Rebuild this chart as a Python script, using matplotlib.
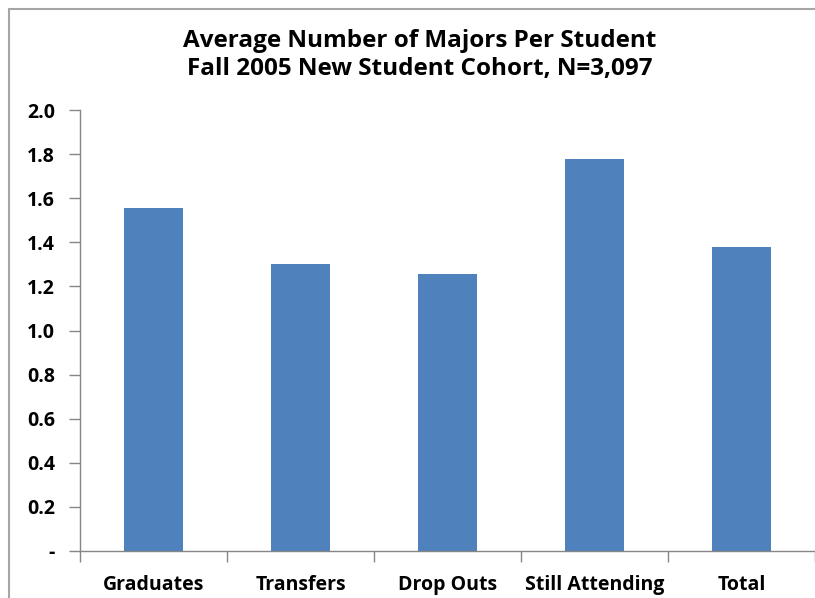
import matplotlib
matplotlib.use("Agg")
import matplotlib.pyplot as plt
from matplotlib.patches import Rectangle
from matplotlib.ticker import FixedLocator, NullFormatter

# Data
categories = ["Graduates", "Transfers", "Drop Outs", "Still Attending", "Total"]
avg_majors = [1.556, 1.30, 1.256, 1.78, 1.38]
y_ticks = [0.0, 0.2, 0.4, 0.6, 0.8, 1.0, 1.2, 1.4, 1.6, 1.8, 2.0]
y_tick_labels = ["-", "0.2", "0.4", "0.6", "0.8", "1.0", "1.2", "1.4", "1.6", "1.8", "2.0"]

plt.rcParams["font.family"] = ["Open Sans", "DejaVu Sans"]

fig = plt.figure(figsize=(8.15, 5.98), dpi=100)
ax = fig.add_axes([80 / 815, 1 - 551 / 598, 735 / 815, 441 / 598])

# outer chart frame (right and bottom edges fall outside the image)
fig.patches.append(Rectangle((9 / 815, -0.05), 1.0, 1 - 8.5 / 598 + 0.05,
                             transform=fig.transFigure, fill=False,
                             edgecolor="#a6a6a6", linewidth=1.5))

x = list(range(len(categories)))
ax.bar(x, avg_majors, width=0.4, color="#4f81bd")

ax.set_xlim(-0.5, len(categories) - 0.5)
ax.set_ylim(0, 2.0)
ax.set_yticks(y_ticks)
ax.set_yticklabels(y_tick_labels, fontsize=14, fontweight="bold")
ax.set_xticks(x)
ax.set_xticklabels(categories, fontsize=14, fontweight="bold")
ax.tick_params(axis="x", which="major", length=0, pad=17)
ax.xaxis.set_minor_locator(FixedLocator([i - 0.5 for i in range(len(categories) + 1)]))
ax.xaxis.set_minor_formatter(NullFormatter())
ax.tick_params(axis="x", which="minor", length=8, color="#868686", width=1)
ax.tick_params(axis="y", length=8, color="#868686", width=1, pad=10)

for side in ["top", "right"]:
    ax.spines[side].set_visible(False)
for side in ["left", "bottom"]:
    ax.spines[side].set_color("#868686")
    ax.spines[side].set_linewidth(1)

fig.text(0.515, 1 - 55 / 598,
         "Average Number of Majors Per Student\nFall 2005 New Student Cohort, N=3,097",
         ha="center", va="center", fontsize=17.5, fontweight="bold", linespacing=1.25)

fig.savefig("out.png", dpi=100)
